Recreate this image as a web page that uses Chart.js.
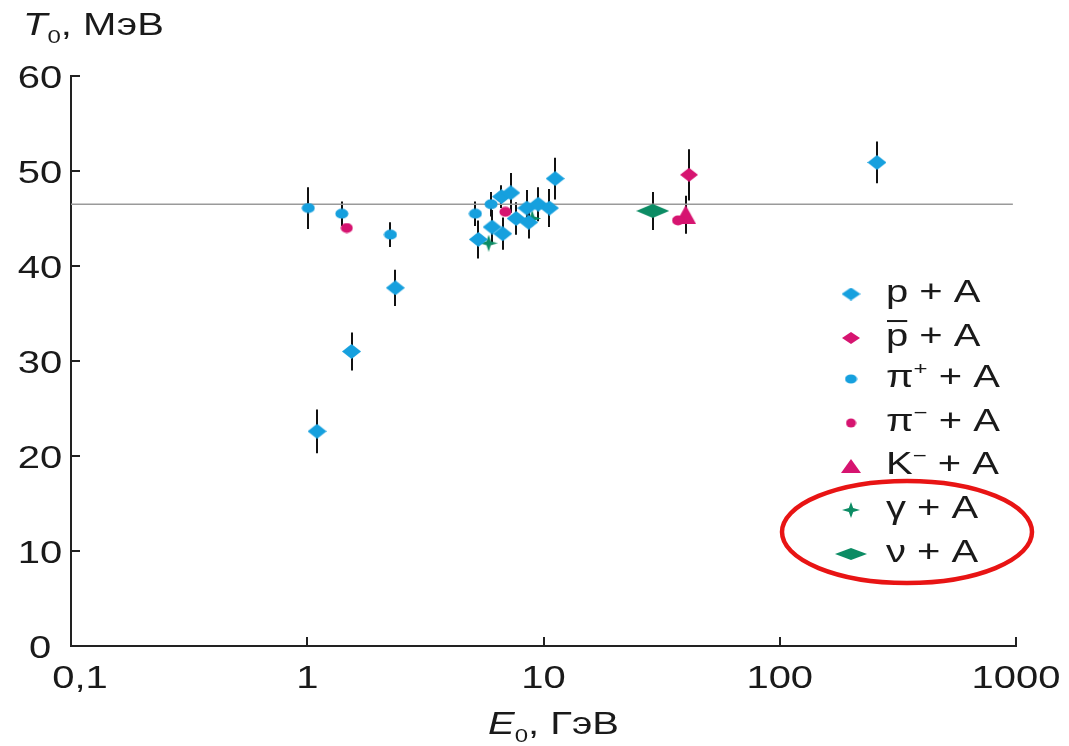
<!DOCTYPE html>
<html>
<head>
<meta charset="utf-8">
<script src="https://cdn.jsdelivr.net/npm/chart.js@4/dist/chart.umd.min.js"></script>
<style>
  body { margin: 0; background: #fff; }
</style>
</head>
<body>
<canvas id="chart" width="1069" height="746"></canvas>
<script>
// axes
const xTicks = [0.1, 1, 10, 100, 1000];
const xTickLabels = ["0,1", "1", "10", "100", "1000"];
const yTicks = [0, 10, 20, 30, 40, 50, 60];
const refLevel = 46.5;
const refRange = [0.1, 970];

// p + A
const pE   = [1.10, 1.54, 2.36, 5.3, 6.06, 6.72, 6.64, 7.27, 7.66, 8.5, 8.66, 9.5, 10.6, 11.2, 258];
const pT   = [22.6, 31.0, 37.7, 42.8, 44.1, 43.4, 47.3, 47.7, 45.0, 46.1, 44.6, 46.5, 46.1, 49.2, 50.9];
const pErr = [2.3, 2.0, 1.9, 2.0, 1.8, 1.7, 1.2, 2.1, 1.7, 1.9, 1.7, 1.8, 2.0, 2.2, 2.2];
// anti-p + A
const pbarE = [41.3];
const pbarT = [49.6];
const pbarErr = [2.7];
// pi+ + A
const pipE = [1.01, 1.40, 2.25, 5.15, 6.0];
const pipT = [46.1, 45.5, 43.3, 45.5, 46.5];
const pipErr = [2.2, 1.3, 1.3, 1.3, 1.3];
// pi- + A
const pimE = [1.47, 6.9, 37.1];
const pimT = [44.0, 45.7, 44.8];
const pimErr = [0, 0, 0];
// K- + A
const kmE = [40];
const kmT = [45.4];
const kmErr = [2.0];
// gamma + A
const gE = [5.86, 8.96];
const gT = [42.4, 45.0];
const gErr = [0, 0];
// nu + A
const nuE = [29.0];
const nuT = [45.8];
const nuErr = [2.0];

const BLUE = "rgb(22,160,222)";
const MAGENTA = "rgb(214,20,112)";
const GREEN = "rgb(12,140,100)";
const FONT = '"Liberation Sans", Arial, sans-serif';
const FS = 32;     // font size
const SX = 1.25;   // text in the original is stretched sideways

function shape(w, h, color, draw) {
  const c = document.createElement("canvas");
  c.width = w; c.height = h;
  const g = c.getContext("2d");
  g.fillStyle = color;
  g.beginPath();
  draw(g, w, h);
  g.closePath();
  g.fill();
  return c;
}
function diamond(w, h, color) {
  return shape(w, h, color, (g, w, h) => {
    g.moveTo(w / 2, 0); g.lineTo(w, h / 2); g.lineTo(w / 2, h); g.lineTo(0, h / 2);
  });
}
function ellipse(w, h, color) {
  return shape(w, h, color, (g, w, h) => g.ellipse(w / 2, h / 2, w / 2 - 0.5, h / 2 - 0.5, 0, 0, Math.PI * 2));
}
function triangle(w, h, color) {
  return shape(w, h, color, (g, w, h) => { g.moveTo(w / 2, 0); g.lineTo(w, h); g.lineTo(0, h); });
}
function star(w, h, color) {
  return shape(w, h, color, (g, w, h) => {
    const cx = w / 2, cy = h / 2, kx = w * 0.12, ky = h * 0.12;
    g.moveTo(cx, 0); g.lineTo(cx + kx, cy - ky); g.lineTo(w, cy); g.lineTo(cx + kx, cy + ky);
    g.lineTo(cx, h); g.lineTo(cx - kx, cy + ky); g.lineTo(0, cy); g.lineTo(cx - kx, cy - ky);
  });
}

function pts(xs, ys) { return xs.map((x, i) => ({ x: x, y: ys[i] })); }

const series = [
  { label: "p + A", parts: [{ t: "p" }, { t: " + A" }], E: pE, T: pT, err: pErr,
    style: diamond(19, 15, BLUE), key: diamond(19, 13, BLUE) },
  { label: "p̄ + A", parts: [{ t: "p", over: true }, { t: " + A" }], E: pbarE, T: pbarT, err: pbarErr,
    style: diamond(18, 14, MAGENTA), key: diamond(18, 12, MAGENTA) },
  { label: "π⁺ + A", parts: [{ t: "π" }, { t: "+", sup: true }, { t: " + A" }], E: pipE, T: pipT, err: pipErr,
    style: ellipse(14, 11, BLUE), key: ellipse(13, 10, BLUE) },
  { label: "π⁻ + A", parts: [{ t: "π" }, { t: "−", sup: true }, { t: " + A" }], E: pimE, T: pimT, err: pimErr,
    style: ellipse(13, 11, MAGENTA), key: ellipse(11, 10, MAGENTA) },
  { label: "K⁻ + A", parts: [{ t: "K" }, { t: "−", sup: true }, { t: " + A" }], E: kmE, T: kmT, err: kmErr,
    style: triangle(21, 19, MAGENTA), key: triangle(20, 14, MAGENTA) },
  { label: "γ + A", parts: [{ t: "γ" }, { t: " + A" }], E: gE, T: gT, err: gErr,
    style: star(18, 17, GREEN), key: star(18, 16, GREEN) },
  { label: "ν + A", parts: [{ t: "ν" }, { t: " + A" }], E: nuE, T: nuT, err: nuErr,
    style: diamond(33, 14, GREEN), key: diamond(32, 12, GREEN) }
];

const legendRows = [294, 338, 379, 423, 466, 510, 554];

// draws text pieces (italic, sub, sup, overline) stretched by SX; returns width
function drawRich(ctx, parts, x, y, size, align) {
  ctx.textBaseline = "alphabetic";
  ctx.textAlign = "left";
  const fontOf = p => (p.italic ? "italic " : "") + ((p.sub || p.sup) ? size * 0.6 : size) + "px " + FONT;
  let total = 0;
  parts.forEach(p => { ctx.font = fontOf(p); total += ctx.measureText(p.t).width * SX; });
  if (align === "center") x -= total / 2;
  for (const p of parts) {
    ctx.font = fontOf(p);
    const dy = p.sub ? size * 0.24 : p.sup ? -size * 0.36 : 0;
    const w = ctx.measureText(p.t).width * SX;
    ctx.save();
    ctx.translate(x, y + dy);
    ctx.scale(SX, 1);
    ctx.fillText(p.t, 0, 0);
    ctx.restore();
    if (p.over) {
      ctx.save();
      ctx.strokeStyle = ctx.fillStyle;
      ctx.lineWidth = 2;
      ctx.beginPath();
      ctx.moveTo(x + 1, y - size * 0.78);
      ctx.lineTo(x + w - 1, y - size * 0.78);
      ctx.stroke();
      ctx.restore();
    }
    x += w;
  }
  return total;
}

const decor = {
  id: "decor",
  beforeDatasetsDraw(chart) {
    const ctx = chart.ctx;
    const xs = chart.scales.x, ys = chart.scales.y;
    ctx.save();
    ctx.strokeStyle = "#111";
    ctx.lineWidth = 2;
    chart.data.datasets.forEach(ds => {
      if (!ds.errors) return;
      ds.data.forEach((d, i) => {
        const e = ds.errors[i];
        if (!e) return;
        const px = Math.round(xs.getPixelForValue(d.x));
        ctx.beginPath();
        ctx.moveTo(px, ys.getPixelForValue(d.y - e));
        ctx.lineTo(px, ys.getPixelForValue(d.y + e));
        ctx.stroke();
      });
    });
    ctx.restore();
  },
  afterDraw(chart) {
    const ctx = chart.ctx;
    const xs = chart.scales.x, ys = chart.scales.y;
    const a = chart.chartArea;
    ctx.save();
    // inward tick marks
    ctx.strokeStyle = "#222";
    ctx.lineWidth = 2;
    yTicks.forEach(v => {
      const py = Math.round(ys.getPixelForValue(v));
      ctx.beginPath(); ctx.moveTo(a.left, py); ctx.lineTo(a.left + 9, py); ctx.stroke();
    });
    xTicks.forEach(v => {
      const px = Math.round(xs.getPixelForValue(v));
      ctx.beginPath(); ctx.moveTo(px, a.bottom); ctx.lineTo(px, a.bottom - 9); ctx.stroke();
    });
    // tick labels
    ctx.fillStyle = "#1a1a1a";
    yTicks.forEach(v => {
      drawRich(ctx, [{ t: String(v) }], 40, ys.getPixelForValue(v) + 11.5, FS, "center");
    });
    xTicks.forEach((v, i) => {
      const shift = i === 0 ? 9 : 0;
      drawRich(ctx, [{ t: xTickLabels[i] }], xs.getPixelForValue(v) + shift, 688, FS, "center");
    });
    // axis titles
    drawRich(ctx, [{ t: "T", italic: true }, { t: "0", sub: true }, { t: ", МэВ" }], 23, 35, FS);
    drawRich(ctx, [{ t: "E", italic: true }, { t: "0", sub: true }, { t: ", ГэВ" }], 488, 734, FS);
    // legend
    series.forEach((s, i) => {
      const y = legendRows[i];
      ctx.drawImage(s.key, 851 - s.key.width / 2, y - s.key.height / 2);
      ctx.fillStyle = "#1a1a1a";
      drawRich(ctx, s.parts, 886, y + 8, FS);
    });
    // red highlight ellipse
    ctx.strokeStyle = "rgb(232,20,20)";
    ctx.lineWidth = 4.5;
    ctx.beginPath();
    ctx.ellipse(907, 532, 125, 51, 0, 0, Math.PI * 2);
    ctx.stroke();
    ctx.restore();
  }
};

const datasets = series.map(s => ({
  type: "scatter",
  label: s.label,
  data: pts(s.E, s.T),
  errors: s.err,
  pointStyle: s.style,
  pointRadius: 9,
  pointHoverRadius: 9,
  order: 0
}));
datasets.push({
  type: "line",
  label: "ref",
  data: pts(refRange, [refLevel, refLevel]),
  borderColor: "#9a9a9a",
  borderWidth: 1.5,
  pointRadius: 0,
  order: 10
});

new Chart(document.getElementById("chart"), {
  data: { datasets: datasets },
  options: {
    responsive: false,
    animation: false,
    layout: { padding: { left: 0, top: 76, right: 53, bottom: 0 } },
    plugins: { legend: { display: false }, tooltip: { enabled: false } },
    scales: {
      x: {
        type: "logarithmic",
        min: 0.1,
        max: 1000,
        afterBuildTicks: sc => { sc.ticks = xTicks.map(v => ({ value: v })); },
        afterFit: sc => { sc.height = 100; },
        grid: { display: false, drawTicks: false },
        border: { display: true, color: "#222", width: 2 },
        ticks: { display: false }
      },
      y: {
        min: 0,
        max: 60,
        afterBuildTicks: sc => { sc.ticks = yTicks.map(v => ({ value: v })); },
        afterFit: sc => { sc.width = 71; },
        grid: { display: false, drawTicks: false },
        border: { display: true, color: "#222", width: 2 },
        ticks: { display: false }
      }
    }
  },
  plugins: [decor]
});
</script>
</body>
</html>
